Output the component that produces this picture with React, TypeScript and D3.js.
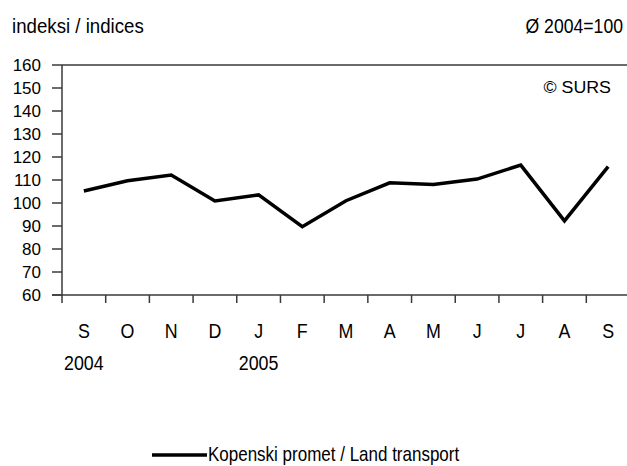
import * as d3 from 'd3';
import { useEffect, useRef } from 'react';

// Kopenski promet / Land transport, Ø 2004=100
const months = ['S', 'O', 'N', 'D', 'J', 'F', 'M', 'A', 'M', 'J', 'J', 'A', 'S'];
const years = ['2004', '', '', '', '2005', '', '', '', '', '', '', '', ''];
const values = [105.2, 109.7, 112.2, 100.9, 103.5, 89.7, 101, 108.8, 108, 110.4, 116.5, 92.2, 115.8];
const yTicks = [60, 70, 80, 90, 100, 110, 120, 130, 140, 150, 160];

const W = 627;
const H = 466;
const FONT = 'Liberation Sans, Arial, sans-serif';
const AXIS = '#3a3a3a';

export default function App() {
  const ref = useRef<SVGSVGElement>(null);

  useEffect(() => {
    if (!ref.current) return;
    const svg = d3.select(ref.current);
    svg.selectAll('*').remove();

    const left = 62, right = 630, top = 65, bottom = 295;
    const idx = months.map((_, i) => String(i));

    const x = d3.scaleBand().domain(idx).range([left, right]);
    const y = d3.scaleLinear().domain([60, 160]).range([bottom, top]);

    // text squeezed horizontally, like the original narrow font
    const label = (s: string, tx: number, ty: number, size: number, sx: number, anchor = 'start') =>
      svg.append('g')
        .attr('transform', `translate(${tx},${ty}) scale(${sx},1)`)
        .append('text').text(s)
        .attr('text-anchor', anchor)
        .attr('font-size', size).attr('font-family', FONT);

    // titles
    label('indeksi / indices', 12, 33, 21, 0.89);
    label('Ø 2004=100', 623, 33, 21, 0.84, 'end');
    label('© SURS', 611, 93, 16.5, 1.08, 'end');

    // top border line at 160
    svg.append('line')
      .attr('x1', left).attr('x2', W).attr('y1', y(160)).attr('y2', y(160))
      .attr('stroke', AXIS).attr('stroke-width', 1.5);

    // y axis
    const yAxis = svg.append('g').attr('transform', `translate(${left},0)`);
    yAxis.append('line')
      .attr('x1', 0).attr('x2', 0).attr('y1', y(160)).attr('y2', y(60) + 8)
      .attr('stroke', AXIS).attr('stroke-width', 1.5);
    yTicks.forEach((t) => {
      yAxis.append('line')
        .attr('x1', -10).attr('x2', 0).attr('y1', y(t)).attr('y2', y(t))
        .attr('stroke', AXIS).attr('stroke-width', 1.5);
      yAxis.append('text').text(t)
        .attr('x', -21).attr('y', y(t)).attr('dy', '0.36em')
        .attr('text-anchor', 'end')
        .attr('font-size', 17).attr('font-family', FONT);
    });

    // x axis
    const xAxis = svg.append('g').attr('transform', `translate(0,${bottom})`);
    xAxis.append('line')
      .attr('x1', left - 10).attr('x2', W).attr('y1', 0).attr('y2', 0)
      .attr('stroke', AXIS).attr('stroke-width', 1.5);
    idx.forEach((d, i) => {
      const x0 = x(d)!;
      if (i > 0) {
        xAxis.append('line')
          .attr('x1', x0).attr('x2', x0).attr('y1', 0).attr('y2', 8)
          .attr('stroke', AXIS).attr('stroke-width', 1.5);
      }
      const cx = x0 + x.bandwidth() / 2;
      label(months[i], cx, bottom + 43, 21, 0.85, 'middle');
      if (years[i]) label(years[i], cx, bottom + 75, 21, 0.85, 'middle');
    });

    // series
    const line = d3.line<number>()
      .x((_, i) => x(String(i))! + x.bandwidth() / 2)
      .y((v) => y(v));
    svg.append('path')
      .datum(values)
      .attr('d', line)
      .attr('fill', 'none')
      .attr('stroke', '#000')
      .attr('stroke-width', 3.5)
      .attr('stroke-linejoin', 'miter');

    // legend
    svg.append('line')
      .attr('x1', 152).attr('x2', 207).attr('y1', 455).attr('y2', 455)
      .attr('stroke', '#000').attr('stroke-width', 3.5);
    label('Kopenski promet / Land transport', 208, 461, 20, 0.85);
  }, []);

  return (
    <svg ref={ref} width={W} height={H}
      style={{ position: 'absolute', left: 0, top: 0, background: '#fff' }} />
  );
}
